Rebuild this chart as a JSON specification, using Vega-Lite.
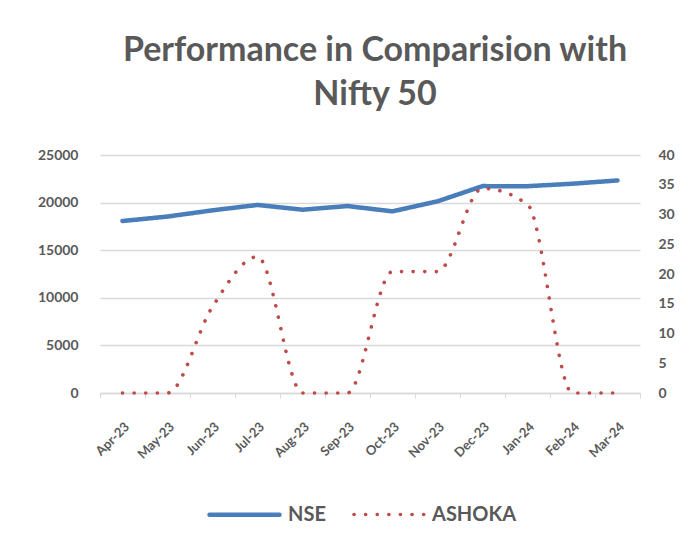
{
  "$schema": "https://vega.github.io/schema/vega-lite/v6.json",
  "autosize": "none",
  "width": 540,
  "height": 238,
  "padding": {"left": 100, "top": 155, "right": 55, "bottom": 153},
  "background": "white",
  "title": {
    "text": ["Performance in Comparision with", "Nifty 50"],
    "font": "Lato",
    "fontSize": 34,
    "fontWeight": "bold",
    "color": "#595959",
    "lineHeight": 44,
    "anchor": "middle",
    "dx": 5,
    "offset": 36
  },
  "config": {
    "view": {"stroke": null},
    "font": "Lato",
    "axis": {
      "labelFont": "Lato",
      "labelFontWeight": "bold",
      "labelColor": "#595959",
      "gridColor": "#D9D9D9",
      "domainColor": "#D9D9D9",
      "tickColor": "#D9D9D9"
    }
  },
  "data": {
    "values": [
      {"month": "Apr-23", "series": "NSE", "value": 18065},
      {"month": "May-23", "series": "NSE", "value": 18534},
      {"month": "Jun-23", "series": "NSE", "value": 19189},
      {"month": "Jul-23", "series": "NSE", "value": 19754},
      {"month": "Aug-23", "series": "NSE", "value": 19254},
      {"month": "Sep-23", "series": "NSE", "value": 19638},
      {"month": "Oct-23", "series": "NSE", "value": 19079},
      {"month": "Nov-23", "series": "NSE", "value": 20133},
      {"month": "Dec-23", "series": "NSE", "value": 21731},
      {"month": "Jan-24", "series": "NSE", "value": 21726},
      {"month": "Feb-24", "series": "NSE", "value": 21983},
      {"month": "Mar-24", "series": "NSE", "value": 22327},
      {"month": "Apr-23", "series": "ASHOKA", "value": 0},
      {"month": "May-23", "series": "ASHOKA", "value": 0},
      {"month": "Jun-23", "series": "ASHOKA", "value": 14.5},
      {"month": "Jul-23", "series": "ASHOKA", "value": 22.9},
      {"month": "Aug-23", "series": "ASHOKA", "value": 0},
      {"month": "Sep-23", "series": "ASHOKA", "value": 0},
      {"month": "Oct-23", "series": "ASHOKA", "value": 20.4},
      {"month": "Nov-23", "series": "ASHOKA", "value": 20.4},
      {"month": "Dec-23", "series": "ASHOKA", "value": 34.4},
      {"month": "Jan-24", "series": "ASHOKA", "value": 31.7},
      {"month": "Feb-24", "series": "ASHOKA", "value": 0},
      {"month": "Mar-24", "series": "ASHOKA", "value": 0}
    ]
  },
  "encoding": {
    "x": {
      "field": "month",
      "type": "ordinal",
      "sort": null,
      "bandPosition": 0.5,
      "scale": {"type": "band", "paddingInner": 0, "paddingOuter": 0},
      "axis": {
        "title": null,
        "labelAngle": -45,
        "labelFontSize": 13,
        "labelPadding": 22,
        "tickBand": "extent",
        "tickSize": 5,
        "grid": false,
        "domainWidth": 1.5
      }
    },
    "color": {
      "field": "series",
      "type": "nominal",
      "scale": {"domain": ["NSE", "ASHOKA"], "range": ["#4A7EBB", "#BE4B48"]},
      "legend": {
        "title": null,
        "orient": "none",
        "direction": "horizontal",
        "legendX": 107,
        "legendY": 322,
        "padding": 0,
        "symbolType": "stroke",
        "symbolSize": 4900,
        "labelFont": "Lato",
        "labelFontSize": 20,
        "labelFontWeight": "bold",
        "labelColor": "#595959",
        "labelOffset": 6,
        "columnPadding": 20,
        "encode": {"symbols": {"update": {"strokeCap": {"value": "round"}}}}
      }
    },
    "strokeDash": {
      "field": "series",
      "type": "nominal",
      "scale": {"domain": ["NSE", "ASHOKA"], "range": [[1, 0], [0.1, 11.5]]},
      "legend": {
        "title": null,
        "orient": "none",
        "direction": "horizontal",
        "legendX": 107,
        "legendY": 322,
        "padding": 0,
        "symbolType": "stroke",
        "symbolSize": 4900,
        "labelFont": "Lato",
        "labelFontSize": 20,
        "labelFontWeight": "bold",
        "labelColor": "#595959",
        "labelOffset": 6,
        "columnPadding": 20,
        "encode": {"symbols": {"update": {"strokeCap": {"value": "round"}}}}
      }
    },
    "strokeWidth": {
      "field": "series",
      "type": "nominal",
      "scale": {"domain": ["NSE", "ASHOKA"], "range": [4.5, 3.6]},
      "legend": {
        "title": null,
        "orient": "none",
        "direction": "horizontal",
        "legendX": 107,
        "legendY": 322,
        "padding": 0,
        "symbolType": "stroke",
        "symbolSize": 4900,
        "labelFont": "Lato",
        "labelFontSize": 20,
        "labelFontWeight": "bold",
        "labelColor": "#595959",
        "labelOffset": 6,
        "columnPadding": 20,
        "encode": {"symbols": {"update": {"strokeCap": {"value": "round"}}}}
      }
    }
  },
  "layer": [
    {
      "transform": [{"filter": "datum.series === 'NSE'"}],
      "mark": {"type": "line", "strokeCap": "round", "strokeJoin": "round"},
      "encoding": {
        "y": {
          "field": "value",
          "type": "quantitative",
          "scale": {"domain": [0, 25000], "nice": false},
          "axis": {
            "title": null,
            "values": [0, 5000, 10000, 15000, 20000, 25000],
            "format": "d",
            "orient": "left",
            "labelFontSize": 14,
            "labelPadding": 22,
            "domain": false,
            "ticks": false,
            "grid": true,
            "gridWidth": 1.5
          }
        }
      }
    },
    {
      "transform": [{"filter": "datum.series === 'ASHOKA'"}],
      "mark": {"type": "line", "interpolate": "monotone", "strokeCap": "round"},
      "encoding": {
        "y": {
          "field": "value",
          "type": "quantitative",
          "scale": {"domain": [0, 40], "nice": false},
          "axis": {
            "title": null,
            "values": [0, 5, 10, 15, 20, 25, 30, 35, 40],
            "orient": "right",
            "labelFontSize": 14,
            "labelPadding": 18,
            "domain": false,
            "ticks": false,
            "grid": false
          }
        }
      }
    }
  ],
  "resolve": {"scale": {"y": "independent"}}
}
